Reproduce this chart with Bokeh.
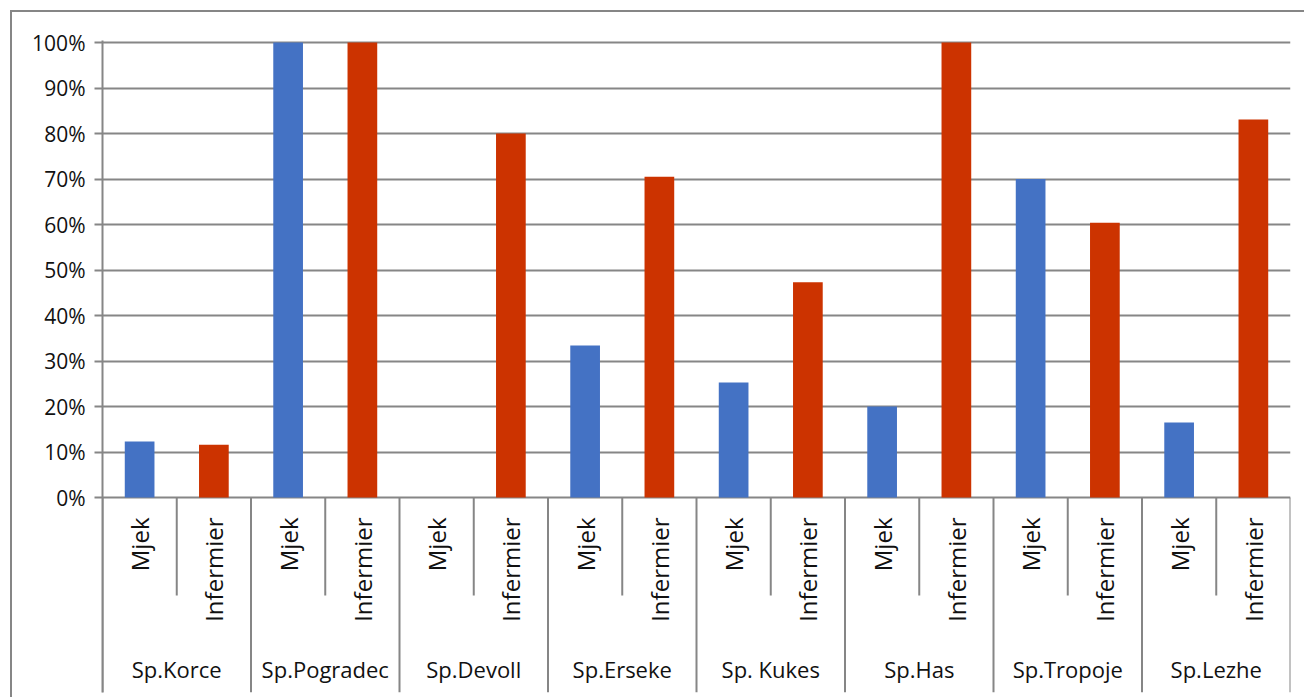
import math
from bokeh.plotting import figure
from bokeh.models import FactorRange, Range1d, FixedTicker, NumeralTickFormatter
from bokeh.core.properties import value
from bokeh.embed import file_html
from bokeh.resources import INLINE

# ---- data ----
hospitals = ["Sp.Korce", "Sp.Pogradec", "Sp.Devoll", "Sp.Erseke",
             "Sp. Kukes", "Sp.Has", "Sp.Tropoje", "Sp.Lezhe"]
roles = ["Mjek", "Infermier"]
mjek = [0.123, 1.00, 0.0, 0.334, 0.253, 0.20, 0.70, 0.165]
infermier = [0.116, 1.00, 0.80, 0.705, 0.473, 1.00, 0.604, 0.831]
y_ticks = [0.0, 0.1, 0.2, 0.3, 0.4, 0.5, 0.6, 0.7, 0.8, 0.9, 1.0]

# ---- style ----
BLUE = "#4472C4"
RED = "#CC3300"
GRID = "#868686"
TEXT = "#111111"
FONT = "Open Sans"
PX = 455.0  # pixels per unit (100%)

factors = [(h, r) for h in hospitals for r in roles]
y_start = -(692 - 497) / PX
y_end = 1.0 + 2 / PX

p = figure(
    x_range=FactorRange(*factors, factor_padding=0, group_padding=0, range_padding=0),
    y_range=Range1d(y_start, y_end),
    width=1294, height=687,
    x_axis_location=None,
    toolbar_location=None,
    output_backend="svg",
    min_border_left=90, min_border_right=16, min_border_top=28, min_border_bottom=7,
)
p.styles = {"border-top": f"2px solid {GRID}", "border-left": f"2px solid {GRID}",
            "margin-left": "10px", "margin-top": "10px"}
p.outline_line_color = None
p.background_fill_color = "white"
p.border_fill_color = "white"

# bars
p.vbar(x=[(h, "Mjek") for h in hospitals], top=mjek, width=0.4,
       fill_color=BLUE, line_color=None)
p.vbar(x=[(h, "Infermier") for h in hospitals], top=infermier, width=0.4,
       fill_color=RED, line_color=None)

# y axis
ax = p.yaxis[0]
ax.ticker = FixedTicker(ticks=y_ticks)
ax.formatter = NumeralTickFormatter(format="0%")
ax.axis_line_color = GRID
ax.axis_line_width = 2
ax.major_tick_line_color = GRID
ax.major_tick_line_width = 2
ax.major_tick_out = 8
ax.major_tick_in = 0
ax.minor_tick_line_color = None
ax.major_label_text_font = FONT
ax.major_label_text_font_size = "21px"
ax.major_label_text_color = TEXT
ax.major_label_standoff = 9

p.xgrid.visible = False
p.ygrid.ticker = FixedTicker(ticks=y_ticks)
p.ygrid.bounds = (0, 1)
p.ygrid.grid_line_color = GRID
p.ygrid.grid_line_width = 2

# category table: separators
p.segment(x0=[(h, "Mjek", 0.5) for h in hospitals],
          x1=[(h, "Mjek", 0.5) for h in hospitals],
          y0=[0] * len(hospitals), y1=[-(595 - 497) / PX] * len(hospitals),
          line_color=GRID, line_width=2)
gx = [(h, "Mjek", -0.5) for h in hospitals] + [(hospitals[-1], "Infermier", 0.5)]
p.segment(x0=gx, x1=gx, y0=[0] * len(gx), y1=[y_start] * len(gx),
          line_color=GRID, line_width=2)

# sub labels (rotated)
p.text(x=factors, y=[-(517 - 497) / PX] * len(factors), text=[f[1] for f in factors],
       angle=math.pi / 2, text_align="right", text_baseline="middle",
       text_font=value(FONT), text_font_size="24px", text_color=TEXT)

# group labels
p.text(x=hospitals, y=[-(668 - 497) / PX] * len(hospitals), text=hospitals,
       text_align="center", text_baseline="middle",
       text_font=value(FONT), text_font_size="22px", text_color=TEXT)

open("out.html", "w").write(file_html(p, INLINE))
